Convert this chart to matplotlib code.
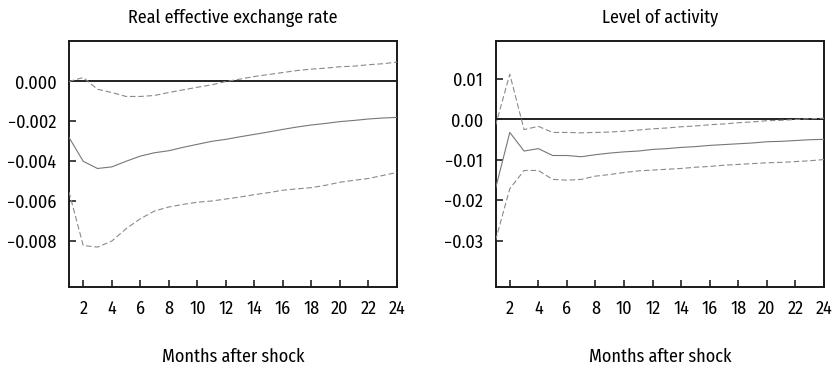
import matplotlib

matplotlib.use("Agg")
import matplotlib.pyplot as plt
from matplotlib.ticker import FuncFormatter

# condensed face, close to the original typeset figure
plt.rcParams["font.family"] = ["Fira Sans Condensed", "DejaVu Sans"]
plt.rcParams["font.stretch"] = "condensed"

months = list(range(1, 25))

# Real effective exchange rate: response and confidence bands
reer_mid = [-0.0028, -0.0040, -0.00436, -0.00428, -0.0040, -0.00374, -0.00357,
            -0.00347, -0.0033, -0.00315, -0.0030, -0.0029, -0.00277, -0.00265,
            -0.00253, -0.0024, -0.00228, -0.00218, -0.0021, -0.00201, -0.00195,
            -0.00188, -0.00183, -0.0018]
reer_hi = [0.0, 0.0002, -0.00039, -0.00055, -0.00075, -0.00075, -0.0007,
           -0.00055, -0.00042, -0.00029, -0.00017, 0.0, 0.00012, 0.00025,
           0.00035, 0.00045, 0.00055, 0.00062, 0.00067, 0.00074, 0.00077,
           0.00084, 0.00089, 0.00097]
reer_lo = [-0.00553, -0.00822, -0.0083, -0.0080, -0.00738, -0.00688, -0.00649,
           -0.00629, -0.00616, -0.00605, -0.00599, -0.00589, -0.00579,
           -0.00567, -0.00557, -0.00545, -0.00538, -0.00532, -0.0052,
           -0.00505, -0.00495, -0.00486, -0.00471, -0.00456]

# Level of activity
act_mid = [-0.0171, -0.0032, -0.0078, -0.0072, -0.0089, -0.0089, -0.0092,
           -0.0087, -0.0083, -0.0080, -0.0078, -0.0074, -0.0072, -0.0069,
           -0.0067, -0.0064, -0.0062, -0.0060, -0.0058, -0.0055, -0.0054,
           -0.0052, -0.0050, -0.0049]
act_hi = [-0.0015, 0.0112, -0.0025, -0.0017, -0.0032, -0.0032, -0.0033,
          -0.0032, -0.0031, -0.0029, -0.0026, -0.0023, -0.0021, -0.0018,
          -0.0016, -0.0013, -0.0011, -0.0008, -0.0006, -0.0003, -0.0002,
          0.0, 0.0002, 0.0003]
act_lo = [-0.0299, -0.0171, -0.0126, -0.0126, -0.0148, -0.0150, -0.0148,
          -0.0140, -0.0136, -0.0131, -0.0127, -0.0125, -0.0123, -0.0121,
          -0.0118, -0.0116, -0.0113, -0.0111, -0.0109, -0.0107, -0.0106,
          -0.0104, -0.0102, -0.0099]

x_ticks = list(range(2, 25, 2))
reer_ticks = [0.0, -0.002, -0.004, -0.006, -0.008]
act_ticks = [0.01, 0.0, -0.01, -0.02, -0.03]


def fmt(decimals):
    def f(v, _):
        s = f"{abs(v):.{decimals}f}"
        return ("\u2212" + s) if v < -1e-12 else s
    return FuncFormatter(f)


def panel(ax, title, mid, hi, lo, yticks, ylim, decimals):
    ax.axhline(0, color="#222222", linewidth=1.4, zorder=2)
    ax.plot(months, mid, color="#777777", linewidth=0.8, zorder=3)
    for band in (hi, lo):
        ax.plot(months, band, color="#8a8a8a", linewidth=0.8,
                dashes=(5, 2.5), zorder=3)
    ax.set_xlim(1, 24)
    ax.set_ylim(*ylim)
    ax.set_xticks(x_ticks)
    ax.set_yticks(yticks)
    ax.yaxis.set_major_formatter(fmt(decimals))
    ax.tick_params(direction="in", length=5, width=1.2, labelsize=13,
                   color="#222222")
    ax.tick_params(axis="x", pad=9)
    ax.tick_params(axis="y", pad=9)
    for s in ax.spines.values():
        s.set_linewidth(1.4)
        s.set_color("#1a1a1a")
    ax.set_title(title, fontsize=13, pad=13)
    ax.set_xlabel("Months after shock", fontsize=13, labelpad=22)


fig = plt.figure(figsize=(8.38, 3.70), dpi=100)
ax1 = fig.add_axes([0.0823, 0.2243, 0.3914, 0.6649])
ax2 = fig.add_axes([0.5913, 0.2243, 0.3920, 0.6649])

panel(ax1, "Real effective exchange rate", reer_mid, reer_hi, reer_lo,
      reer_ticks, (-0.0103, 0.00203), 3)
panel(ax2, "Level of activity", act_mid, act_hi, act_lo,
      act_ticks, (-0.0414, 0.0194), 2)

fig.savefig("out.png")
